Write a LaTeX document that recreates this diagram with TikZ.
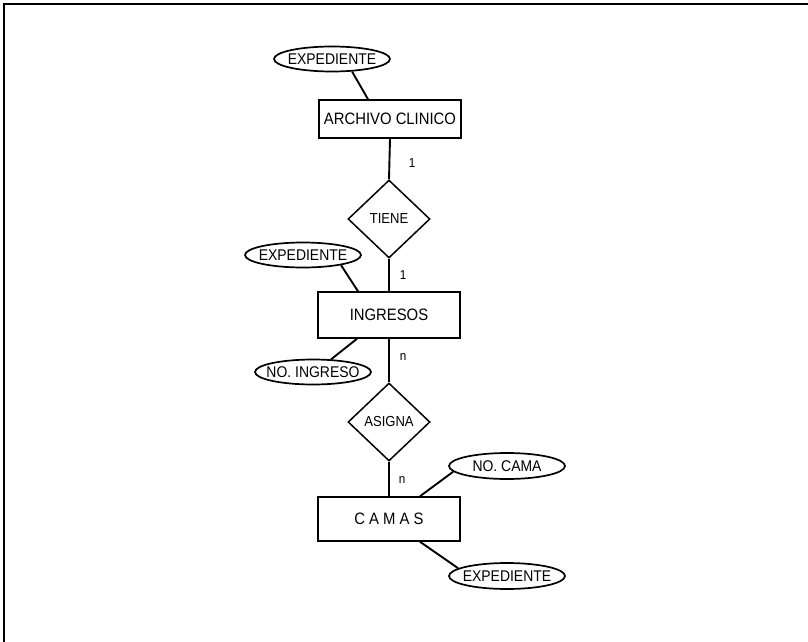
\documentclass[tikz,border=0pt]{standalone}
\usepackage{fontspec}
\setmainfont{Liberation Sans}[FakeStretch=0.9]
\usetikzlibrary{shapes.geometric,calc}
\begin{document}
\begin{tikzpicture}[x=1pt,y=-1pt,
  entity/.style={draw,line width=1.5pt,rectangle,minimum width=142pt,inner sep=0pt,font=\fontsize{16.5}{18}\selectfont},
  attr/.style={draw,line width=1.7pt,ellipse,minimum width=116pt,minimum height=25pt,inner ysep=0pt,inner xsep=-6pt,font=\fontsize{15.5}{17}\selectfont},
  rel/.style={draw,line width=1.5pt,diamond,minimum width=82pt,minimum height=78pt,inner sep=0pt,font=\fontsize{14.5}{16}\selectfont},
  card/.style={inner sep=0pt,font=\fontsize{13}{15}\selectfont},
  link/.style={line width=1.9pt}]
\useasboundingbox (0,0) rectangle (808,642);
% frame
\draw[line width=1.5pt] (4,642) -- (4,4) -- (808,4);

% entities
\node[entity,minimum height=38pt] (ac) at (390,119) {ARCHIVO CLINICO};
\node[entity,minimum height=46pt] (ing) at (389,315) {INGRESOS};
\node[entity,minimum height=44pt] (cam) at (389,519) {C A M A S};

% relationships
\node[rel] (tiene) at (389,219) {TIENE};
\node[rel] (asigna) at (389,422) {ASIGNA};

% attributes
\node[attr] (e1) at (332,59) {EXPEDIENTE};
\node[attr] (e2) at (303,255) {EXPEDIENTE};
\node[attr] (ni) at (313,372) {NO. INGRESO};
\node[attr,minimum height=26pt] (nc) at (507,466) {NO. CAMA};
\node[attr,minimum height=26pt] (e3) at (507,576) {EXPEDIENTE};

% cardinalities
\node[card] (c1) at (412,163) {1};
\node[card] (c2) at (403,275) {1};
\node[card] (c3) at (403,357) {n};
\node[card] (c4) at (402,480) {n};

% relationship links
\draw[link] (ac.south) -- (tiene.north);
\draw[link] (tiene.south) -- (ing.north);
\draw[link] (ing.south) -- (asigna.north);
\draw[link] (asigna.south) -- (cam.north);

% attribute links
\draw[link] (e1.-32) -- ($(ac.north)+(-22,0)$);
\draw[link] (e2.-15) -- ($(ing.north)+(-31,0)$);
\draw[link] ($(ing.south)+(-32,0)$) -- (ni.35);
\draw[link] ($(cam.north)+(31,0)$) -- (nc.186);
\draw[link] ($(cam.south)+(31,0)$) -- (e3.171);
\end{tikzpicture}
\end{document}
